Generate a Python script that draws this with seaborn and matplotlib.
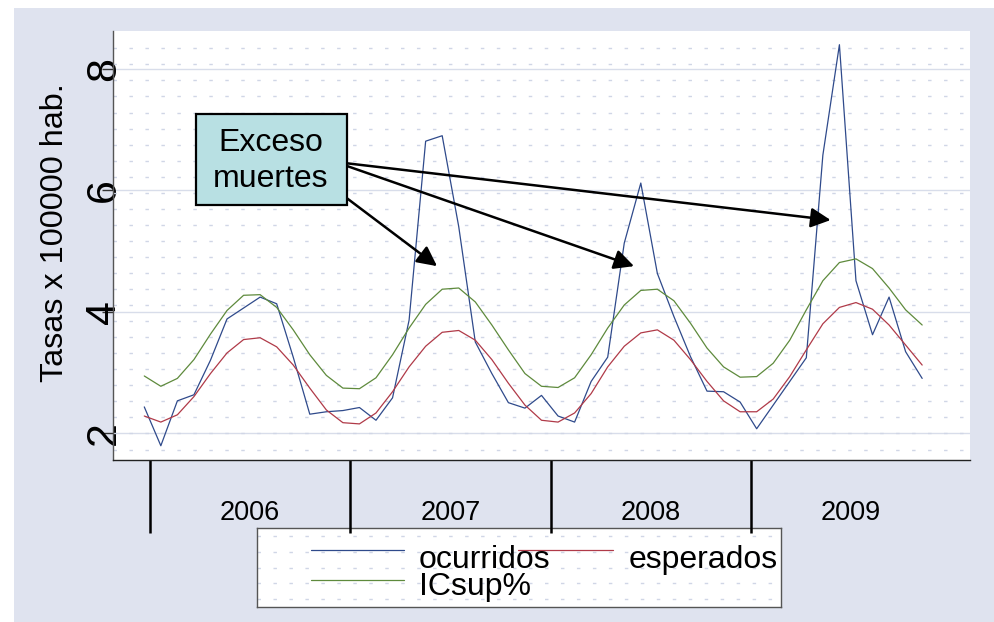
import numpy as np
import pandas as pd
import matplotlib
matplotlib.use("Agg")
import matplotlib.pyplot as plt
from matplotlib.patches import Rectangle
from matplotlib.lines import Line2D
import seaborn as sns

# ---------------- data ----------------
years = ["2006", "2007", "2008", "2009"]
ocurridos = [2.43, 1.79, 2.53, 2.63, 3.20, 3.88, 4.06, 4.24, 4.13, 3.25, 2.31, 2.35,
             2.37, 2.42, 2.21, 2.58, 3.86, 6.81, 6.90, 5.40, 3.50, 2.98, 2.50, 2.41,
             2.62, 2.28, 2.18, 2.85, 3.25, 5.13, 6.12, 4.63, 3.92, 3.26, 2.69, 2.68,
             2.51, 2.07, 2.46, 2.85, 3.24, 6.58, 8.40, 4.51, 3.62, 4.24, 3.34, 2.90]
esperados = [2.28, 2.18, 2.30, 2.60, 2.98, 3.32, 3.54, 3.57, 3.42, 3.12, 2.74, 2.38,
             2.17, 2.15, 2.33, 2.68, 3.09, 3.43, 3.66, 3.69, 3.53, 3.21, 2.82, 2.46,
             2.21, 2.18, 2.33, 2.65, 3.09, 3.43, 3.65, 3.70, 3.53, 3.21, 2.85, 2.53,
             2.35, 2.35, 2.56, 2.93, 3.37, 3.80, 4.07, 4.15, 4.04, 3.78, 3.45, 3.12]
icsup = [2.94, 2.77, 2.90, 3.21, 3.63, 4.02, 4.27, 4.28, 4.07, 3.70, 3.29, 2.95,
         2.74, 2.73, 2.91, 3.29, 3.73, 4.12, 4.37, 4.39, 4.16, 3.78, 3.37, 2.98,
         2.77, 2.75, 2.91, 3.29, 3.73, 4.11, 4.35, 4.37, 4.18, 3.81, 3.40, 3.09,
         2.92, 2.93, 3.15, 3.53, 4.03, 4.51, 4.81, 4.87, 4.71, 4.39, 4.03, 3.78]
series_names = ["ocurridos", "esperados", "ICsup%"]
yticks = [2, 4, 6, 8]

mes = np.arange(len(ocurridos))
df = pd.DataFrame({
    "mes": np.concatenate([mes, mes, mes]),
    "tasa": ocurridos + esperados + icsup,
    "serie": np.repeat(series_names, len(mes)),
})

# ---------------- style ----------------
sns.set_style("white")
plt.rcParams["font.family"] = ["Liberation Sans", "DejaVu Sans"]
for k in ["text.color", "axes.labelcolor", "xtick.color", "ytick.color"]:
    plt.rcParams[k] = "black"

W, H = 994, 622
fig = plt.figure(figsize=(W / 100, H / 100), dpi=100, facecolor="white")
bg = "#DFE3EF"
fig.patches.append(Rectangle((14 / W, 0), 1 - 14 / W, 1 - 8 / H, transform=fig.transFigure,
                             facecolor=bg, edgecolor="none", zorder=-10))

def fx(px):
    return px / W

def fy(py):
    return 1 - py / H

ax = fig.add_axes([fx(113), fy(460), fx(970) - fx(113), fy(31) - fy(460)])
ax.set_facecolor("white")
ax.set_zorder(2)

palette = {"ocurridos": "#2F4A8B", "esperados": "#B03A48", "ICsup%": "#5E8A3C"}
sns.lineplot(data=df, x="mes", y="tasa", hue="serie", palette=palette,
             hue_order=series_names, linewidth=0.9, legend=False, ax=ax, zorder=3)

ax.set_xlim(-1.89, 49.89)
ax.set_ylim(1.555, 8.626)

# grid
ax.set_yticks(yticks)
ax.set_yticks(np.arange(8.34, 1.5, -0.2645), minor=True)
ax.grid(which="major", axis="y", color="#D8DDEA", linewidth=1.0, linestyle="-")
ax.grid(which="minor", axis="y", color="#D0D6E6", linewidth=1.0, linestyle=(0, (2.5, 9)))
ax.grid(which="both", axis="x", visible=False)
ax.set_axisbelow(True)

ax.set_yticklabels([str(v) for v in yticks])
ax.tick_params(axis="y", which="major", length=8, width=1, color="#333333",
               labelsize=31, labelrotation=90, pad=-16, left=True)
ax.tick_params(axis="y", which="minor", length=0)
for lbl in ax.get_yticklabels():
    lbl.set_va("center")

# x ticks: year bounds (long ticks) and year labels (between)
year_bounds = [0.35, 12.45, 24.55, 36.65]
year_centers = [6.4, 18.5, 30.6, 42.7]
ax.set_xticks(year_bounds)
ax.set_xticklabels([""] * len(year_bounds))
ax.set_xticks(year_centers, minor=True)
ax.set_xticklabels(years, minor=True)
ax.tick_params(axis="x", which="major", length=52.5, width=1.8, color="black",
               bottom=True, direction="out")
ax.tick_params(axis="x", which="minor", length=0, pad=28.5, labelsize=19.5, bottom=True)
ax.set_xlabel("")

ax.set_ylabel("Tasas x 100000 hab.", fontsize=23.3)
ax.yaxis.set_label_coords(-0.0496, 0.529)

for s in ["top", "right"]:
    ax.spines[s].set_visible(False)
ax.spines["left"].set_color("#555555")
ax.spines["left"].set_linewidth(1.0)
ax.spines["bottom"].set_color("#222222")
ax.spines["bottom"].set_linewidth(1.0)

# annotation box
fig.patches.append(Rectangle((fx(196), fy(205)), fx(347) - fx(196), fy(114) - fy(205),
                             transform=fig.transFigure, facecolor="#B8E0E3",
                             edgecolor="black", linewidth=1.6, zorder=10))
fig.text(fx(271), fy(161), "Exceso\nmuertes", ha="center", va="center",
         fontsize=23, linespacing=1.3, zorder=11)

arrows = [((347, 163.3), (41.47, 5.51)),
          ((347, 166.0), (29.59, 4.75)),
          ((347, 198.3), (17.69, 4.75))]
for (sx, sy), (tx, ty) in arrows:
    ax.annotate("", xy=(tx, ty), xycoords="data",
                xytext=(fx(sx), fy(sy)), textcoords="figure fraction",
                arrowprops=dict(arrowstyle="-|>,head_length=0.6,head_width=0.3",
                                lw=1.8, color="black", shrinkA=0, shrinkB=0,
                                mutation_scale=20),
                zorder=12, annotation_clip=False)

# legend box with dotted background (drawn beneath the main axes' year ticks)
lax = fig.add_axes([fx(256.7), fy(607), fx(781) - fx(256.7), fy(528) - fy(607)])
lax.set_zorder(1)
lax.set_facecolor("white")
lax.set_xlim(0, 1)
lax.set_ylim(0, 1)
lax.set_xticks([])
lax.set_yticks([])
for yy in [0.1, 0.3, 0.5, 0.7, 0.9]:
    lax.axhline(yy, color="#D0D6E6", linewidth=1.0, linestyle=(0, (2.5, 9)), zorder=0)
for s in lax.spines.values():
    s.set_color("#555555")
    s.set_linewidth(1.0)

legend_keys = [("ocurridos", (0.103, 0.281), 0.72),
               ("esperados", (0.498, 0.680), 0.72),
               ("ICsup%", (0.103, 0.281), 0.342)]
for name, (x0, x1), ly in legend_keys:
    lax.add_line(Line2D([x0, x1], [ly, ly], color=palette[name], lw=0.9,
                        transform=lax.transAxes))
# first column labels as one two-line text, second column label alone
lax.text(0.3095, 0.152, series_names[0] + "\n" + series_names[2], transform=lax.transAxes,
         ha="left", va="baseline", fontsize=23, linespacing=0.88)
lax.text(0.7085, 0.494, series_names[1], transform=lax.transAxes,
         ha="left", va="baseline", fontsize=23)

fig.savefig("out.png", dpi=100, facecolor="white")
